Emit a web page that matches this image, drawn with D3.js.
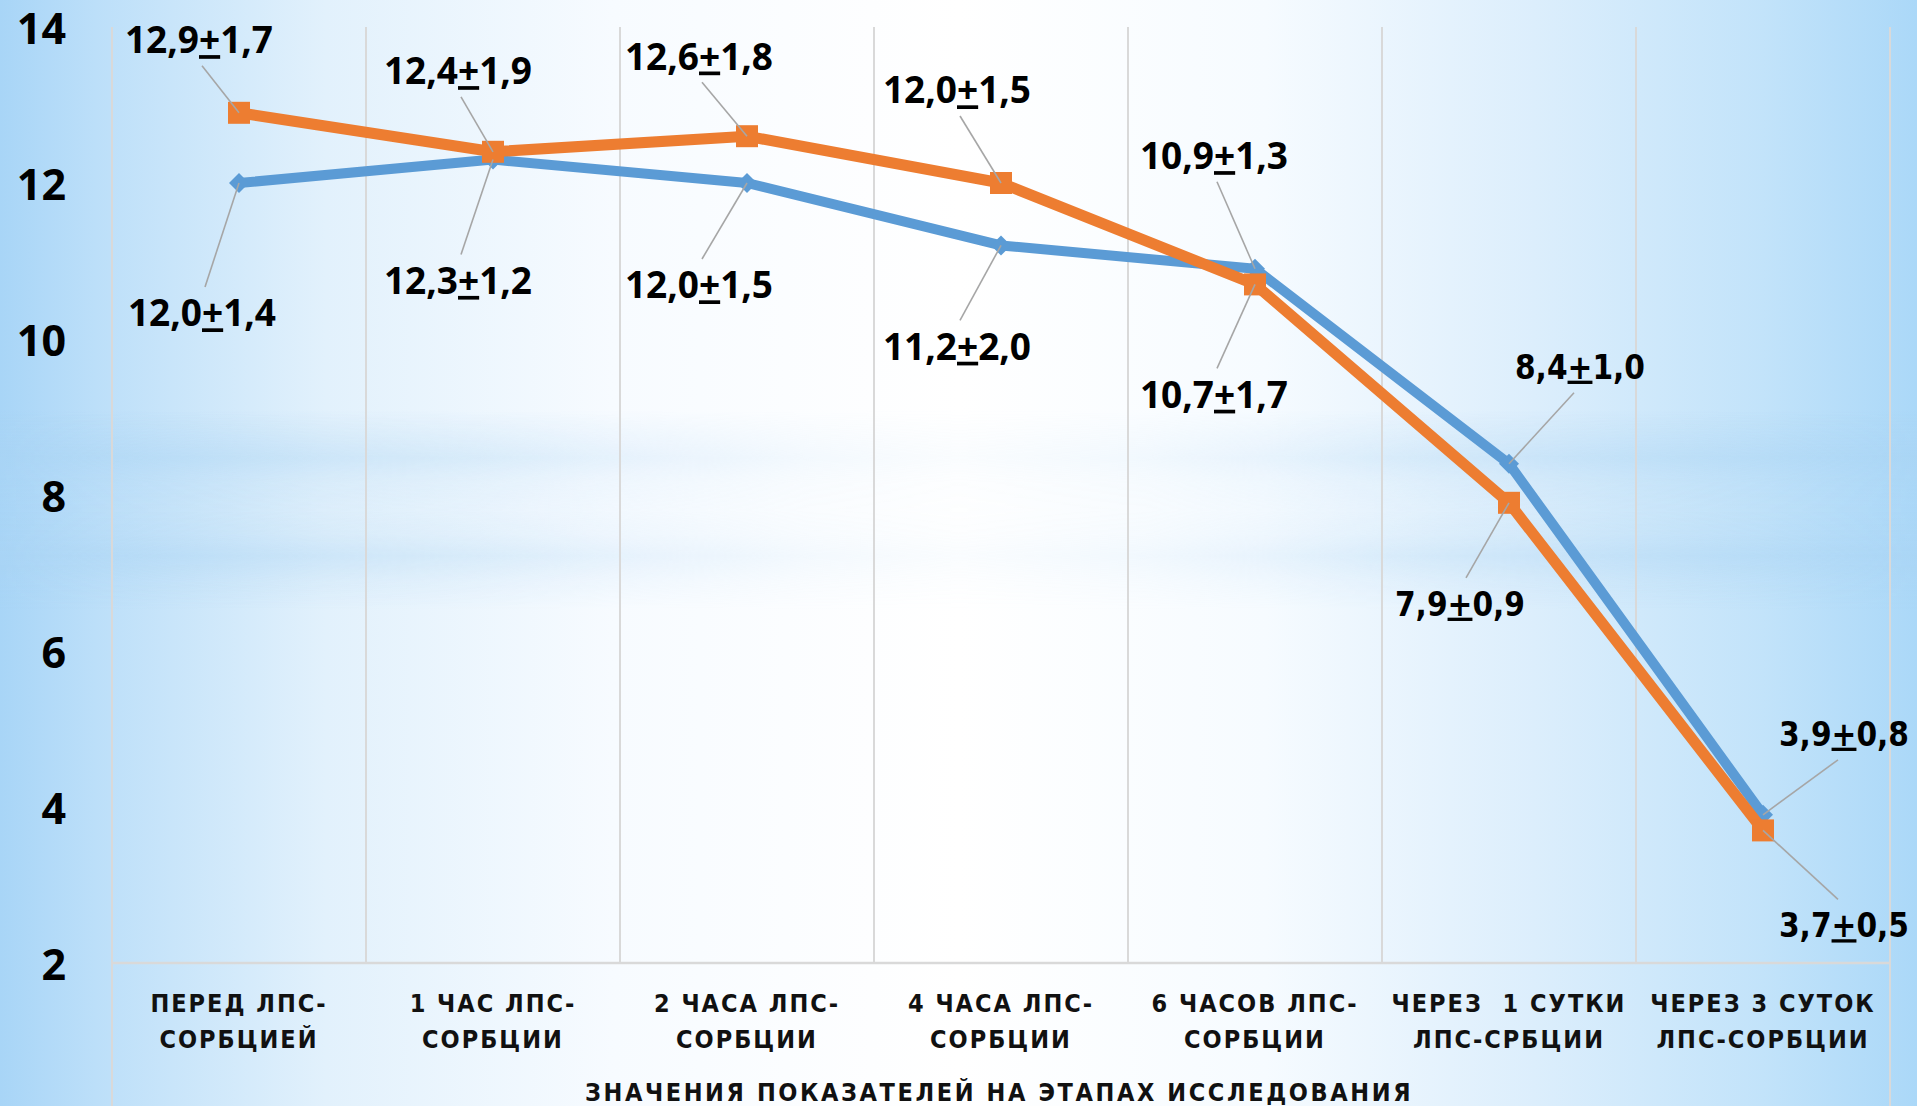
<!DOCTYPE html>
<html>
<head>
<meta charset="utf-8">
<script src="https://cdn.jsdelivr.net/npm/d3@7"></script>
<style>
html, body { margin: 0; padding: 0; overflow: hidden; background: #fff; }
svg { display: block; }
</style>
</head>
<body>
<svg id="chart" width="1917" height="1106"></svg>
<script>
/*
 * Chart data
 */
var categories = [
    ["ПЕРЕД ЛПС-", "СОРБЦИЕЙ"],
    ["1 ЧАС ЛПС-", "СОРБЦИИ"],
    ["2 ЧАСА ЛПС-", "СОРБЦИИ"],
    ["4 ЧАСА ЛПС-", "СОРБЦИИ"],
    ["6 ЧАСОВ ЛПС-", "СОРБЦИИ"],
    ["ЧЕРЕЗ  1 СУТКИ", "ЛПС-СРБЦИИ"],
    ["ЧЕРЕЗ 3 СУТОК", "ЛПС-СОРБЦИИ"]
];
var blueMean   = [12.0, 12.3, 12.0, 11.2, 10.9, 8.4, 3.9];
var blueSd     = [1.4, 1.2, 1.5, 2.0, 1.3, 1.0, 0.8];
var orangeMean = [12.9, 12.4, 12.6, 12.0, 10.7, 7.9, 3.7];
var orangeSd   = [1.7, 1.9, 1.8, 1.5, 1.7, 0.9, 0.5];
var yTicks = [2, 4, 6, 8, 10, 12, 14];
var axisTitle = "ЗНАЧЕНИЯ ПОКАЗАТЕЛЕЙ НА ЭТАПАХ ИССЛЕДОВАНИЯ";

// label centres, as offsets from their point (manually placed labels)
var blueLabelOffset   = [[-37, 130], [-35, 121], [-48, 102], [-44, 101], [-41, -113], [71, -97], [81, -81]];
var orangeLabelOffset = [[-40, -73], [-35, -81], [-48, -80], [-44, -93], [-41, 110], [-49, 101], [81, 95]];

var W = 1917, H = 1106;
var plot = {left: 112, right: 1890, top: 27, bottom: 963};

var svg = d3.select('#chart');
var defs = svg.append('defs');

/*
 * Background: blue edges, white middle, two soft horizontal bands
 */
var bgGrad = defs.append('linearGradient').attr('id', 'bgGrad')
    .attr('x1', 0).attr('x2', 1).attr('y1', 0).attr('y2', 0);
[[0, '#a8d5f7'], [0.05, '#bcdff9'], [0.17, '#e2f1fc'], [0.32, '#f7fbff'],
 [0.5, '#ffffff'], [0.66, '#f6fbff'], [0.8, '#dceefc'], [0.92, '#c2e3fa'], [1, '#abd8f8']]
    .forEach(function(s) {
        bgGrad.append('stop').attr('offset', s[0]).attr('stop-color', s[1]);
    });

var bandTop = 410, bandHeight = 200;
var bandGrad = defs.append('linearGradient').attr('id', 'bandGrad')
    .attr('x1', 0).attr('x2', 0).attr('y1', 0).attr('y2', 1);
[[0, 0], [0.12, 0.25], [0.24, 0.5], [0.36, 0.22], [0.5, 0.14], [0.62, 0.25], [0.73, 0.5], [0.86, 0.2], [1, 0]]
    .forEach(function(s) {
        bandGrad.append('stop').attr('offset', s[0])
            .attr('stop-color', '#a9d3f3').attr('stop-opacity', s[1]);
    });

var bandMaskGrad = defs.append('linearGradient').attr('id', 'bandMaskGrad')
    .attr('x1', 0).attr('x2', 1).attr('y1', 0).attr('y2', 0);
[[0, 1], [0.25, 0.6], [0.42, 0.2], [0.5, 0.12], [0.6, 0.2], [0.75, 0.6], [1, 1]].forEach(function(s) {
    bandMaskGrad.append('stop').attr('offset', s[0])
        .attr('stop-color', '#fff').attr('stop-opacity', s[1]);
});
defs.append('mask').attr('id', 'bandMask')
    .append('rect').attr('width', W).attr('height', H).attr('fill', 'url(#bandMaskGrad)');

svg.append('rect').attr('width', W).attr('height', H).attr('fill', 'url(#bgGrad)');
svg.append('rect').attr('x', 0).attr('y', bandTop).attr('width', W).attr('height', bandHeight)
    .attr('fill', 'url(#bandGrad)').attr('mask', 'url(#bandMask)');

/*
 * Scales
 */
var x = d3.scaleBand().domain(d3.range(categories.length)).range([plot.left, plot.right]);
var y = d3.scaleLinear().domain([2, 14]).range([plot.bottom, plot.top]);
function cx(i) { return x(i) + x.bandwidth() / 2; }

// vertical gridlines between categories, outer ones run to the bottom edge
var bounds = d3.range(categories.length + 1).map(function(i) { return plot.left + i * x.step(); });
svg.append('g').selectAll('line').data(bounds).join('line')
    .attr('x1', function(d) { return d; }).attr('x2', function(d) { return d; })
    .attr('y1', plot.top)
    .attr('y2', function(d, i) { return (i === 0 || i === bounds.length - 1) ? H : plot.bottom; })
    .attr('stroke', '#d9d9d9').attr('stroke-width', 2);

// category axis line
svg.append('line')
    .attr('x1', plot.left).attr('x2', plot.right)
    .attr('y1', y(2)).attr('y2', y(2))
    .attr('stroke', '#d9d9d9').attr('stroke-width', 2.5);

// value axis
var yAxis = svg.append('g')
    .attr('transform', 'translate(' + plot.left + ',0)')
    .call(d3.axisLeft(y).tickValues(yTicks).tickSize(0).tickPadding(46));
yAxis.select('.domain').remove();
yAxis.selectAll('text')
    .attr('font-family', '"Open Sans", sans-serif')
    .attr('font-weight', 700).attr('font-size', 43).attr('fill', '#000')
    .attr('dy', '0.38em');

// category labels
var catFont = '"Liberation Sans Narrow", "DejaVu Sans Condensed", sans-serif';
var catText = svg.append('g').selectAll('text').data(categories).join('text')
    .attr('x', function(d, i) { return cx(i); })
    .attr('y', 1012)
    .attr('text-anchor', 'middle')
    .attr('font-family', catFont)
    .attr('font-weight', 700).attr('font-size', 25)
    .attr('letter-spacing', 2)
    .style('white-space', 'pre')
    .attr('fill', '#111');
catText.selectAll('tspan').data(function(d) { return d; }).join('tspan')
    .attr('x', function() { return d3.select(this.parentNode).attr('x'); })
    .attr('dy', function(d, j) { return j === 0 ? 0 : 36; })
    .text(function(d) { return d; });

svg.append('text')
    .attr('x', (plot.left + plot.right) / 2 - 2).attr('y', 1101)
    .attr('text-anchor', 'middle')
    .attr('font-family', catFont)
    .attr('font-weight', 700).attr('font-size', 25)
    .attr('letter-spacing', 2.6)
    .attr('fill', '#111')
    .text(axisTitle);

/*
 * Series
 */
var series = [
    {name: 'blue', mean: blueMean, sd: blueSd, off: blueLabelOffset, color: '#5b9bd5', width: 10, marker: 'diamond'},
    {name: 'orange', mean: orangeMean, sd: orangeSd, off: orangeLabelOffset, color: '#ed7d31', width: 11, marker: 'square'}
];

var line = d3.line()
    .x(function(d, i) { return cx(i); })
    .y(function(d) { return y(d); });

series.forEach(function(s) {
    svg.append('path').datum(s.mean)
        .attr('d', line)
        .attr('fill', 'none')
        .attr('stroke', s.color).attr('stroke-width', s.width)
        .attr('stroke-linejoin', 'round');
    var markerPath = s.marker === 'diamond' ? 'M0,-10L10,0L0,10L-10,0Z' : 'M-11,-11H11V11H-11Z';
    svg.append('g').selectAll('path').data(s.mean).join('path')
        .attr('transform', function(d, i) { return 'translate(' + cx(i) + ',' + y(d) + ')'; })
        .attr('d', markerPath)
        .attr('fill', s.color);
});

/*
 * Data labels with leader lines
 */
var fmt = function(v) { return d3.format('.1f')(v).replace('.', ','); };

series.forEach(function(s) {
    s.mean.forEach(function(v, i) {
        var px = cx(i), py = y(v);
        var lx = px + s.off[i][0], ly = py + s.off[i][1];
        var side = s.off[i][1] < 0 ? 1 : -1;   // leader leaves label towards the point
        svg.append('line')
            .attr('x1', lx + (i >= 5 ? (s.off[i][0] > 0 ? -6 : 6) : 3)).attr('y1', ly + side * 26)
            .attr('x2', px).attr('y2', py)
            .attr('stroke', '#a6a6a6').attr('stroke-width', 1.6);
    });
});

series.forEach(function(s) {
    s.mean.forEach(function(v, i) {
        var px = cx(i), py = y(v);
        var lx = px + s.off[i][0], ly = py + s.off[i][1];
        var wide = i >= 5;
        var t = svg.append('text')
            .attr('x', lx).attr('y', ly)
            .attr('dy', '0.36em')
            .attr('text-anchor', 'middle')
            .attr('font-family', wide ? '"DejaVu Sans Condensed", "DejaVu Sans", sans-serif' : '"Open Sans", sans-serif')
            .attr('font-weight', 700)
            .attr('font-size', wide ? 33 : 37)
            .attr('fill', '#000');
        t.append('tspan').text(fmt(v));
        t.append('tspan').style('text-decoration', 'underline').text('+');
        t.append('tspan').text(fmt(s.sd[i]));
    });
});
</script>
</body>
</html>
